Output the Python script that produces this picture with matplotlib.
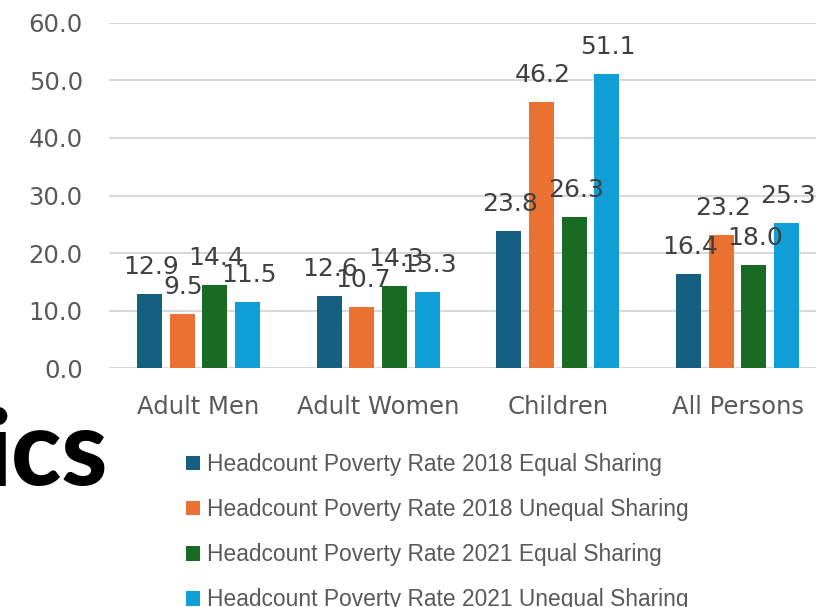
import matplotlib
matplotlib.use("Agg")
import matplotlib.pyplot as plt
from matplotlib.patches import Patch
import numpy as np

categories = ["Adult Men", "Adult Women", "Children", "All Persons"]
series_names = [
    "Headcount Poverty Rate 2018 Equal Sharing",
    "Headcount Poverty Rate 2018 Unequal Sharing",
    "Headcount Poverty Rate 2021 Equal Sharing",
    "Headcount Poverty Rate 2021 Unequal Sharing",
]
hc2018_equal = [12.9, 12.6, 23.8, 16.4]
hc2018_unequal = [9.5, 10.7, 46.2, 23.2]
hc2021_equal = [14.4, 14.3, 26.3, 18.0]
hc2021_unequal = [11.5, 13.3, 51.1, 25.3]
yticks = [0, 10, 20, 30, 40, 50, 60]

series = [hc2018_equal, hc2018_unequal, hc2021_equal, hc2021_unequal]
colors = ["#156082", "#E97132", "#196B24", "#0F9ED5"]

W, H = 816, 607
fig = plt.figure(figsize=(W / 100, H / 100), dpi=100)
ax = fig.add_axes([108.5 / W, (H - 368.3) / H, 719 / W, 345.6 / H])

x = np.arange(len(categories))
step = 32.7 / 180
bw = 25 / 180
for i, (vals, c) in enumerate(zip(series, colors)):
    xs = x + (i - 1.5) * step
    ax.bar(xs, vals, width=bw, color=c, zorder=3)
    for xi, v in zip(xs, vals):
        ax.annotate(f"{v:.1f}", xy=(xi, v), xytext=(1.5, 20), textcoords="offset pixels",
                    ha="center", va="baseline", fontsize=18, color="#404040",
                    family="DejaVu Sans", zorder=4)

ax.set_xlim(-0.5, 3.5)
ax.set_ylim(0, 60)
ax.set_yticks(yticks)
ax.set_yticklabels([f"{t:.1f}" for t in yticks])
ax.set_xticks(x)
ax.set_xticklabels(categories)
ax.tick_params(axis="both", length=0, labelsize=17.5, labelcolor="#595959")
ax.tick_params(axis="y", pad=18.5)
ax.tick_params(axis="x", pad=19)
for s in ax.spines.values():
    s.set_visible(False)
ax.grid(axis="y", color="#D9D9D9", linewidth=1.5, zorder=0)
ax.set_axisbelow(True)

handles = [Patch(facecolor=c, edgecolor="none") for c in colors]
leg = fig.legend(handles, series_names, loc="upper left",
                 bbox_to_anchor=(186 / W, 1 - 453 / H), frameon=False,
                 prop={"family": "Liberation Sans", "size": 16.4},
                 handlelength=0.62, handleheight=0.62, handletextpad=0.32,
                 labelspacing=0.97, borderpad=0, borderaxespad=0)
for t in leg.get_texts():
    t.set_color("#595959")

fig.text(108 / W, 1 - 485 / H, "ics", ha="right", va="baseline", fontsize=75,
         fontweight="black", family="Lato", color="#000000")

fig.savefig("out.png", dpi=100)
